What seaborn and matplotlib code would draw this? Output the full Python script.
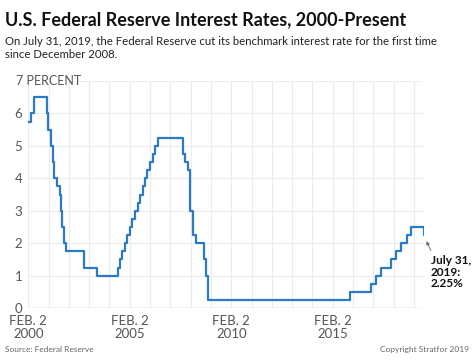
import matplotlib
matplotlib.use("Agg")
import matplotlib.pyplot as plt
import seaborn as sns
import pandas as pd

# Fed funds target rate (upper bound), change dates
dates = ["2000-02-02", "2000-03-21", "2000-05-16", "2001-01-03", "2001-01-31",
         "2001-03-20", "2001-04-18", "2001-05-15", "2001-06-27", "2001-08-21",
         "2001-09-17", "2001-10-02", "2001-11-06", "2001-12-11", "2002-11-06",
         "2003-06-25", "2004-06-30", "2004-08-10", "2004-09-21", "2004-11-10",
         "2004-12-14", "2005-02-02", "2005-03-22", "2005-05-03", "2005-06-30",
         "2005-08-09", "2005-09-20", "2005-11-01", "2005-12-13", "2006-01-31",
         "2006-03-28", "2006-05-10", "2006-06-29", "2007-09-18", "2007-10-31",
         "2007-12-11", "2008-01-22", "2008-01-30", "2008-03-18", "2008-04-30",
         "2008-10-08", "2008-10-29", "2008-12-16", "2015-12-16", "2016-12-14",
         "2017-03-15", "2017-06-14", "2017-12-13", "2018-03-21", "2018-06-13",
         "2018-09-26", "2018-12-19", "2019-07-31"]
rates = [5.75, 6.00, 6.50, 6.00, 5.50,
         5.00, 4.50, 4.00, 3.75, 3.50,
         3.00, 2.50, 2.00, 1.75, 1.25,
         1.00, 1.25, 1.50, 1.75, 2.00,
         2.25, 2.50, 2.75, 3.00, 3.25,
         3.50, 3.75, 4.00, 4.25, 4.50,
         4.75, 5.00, 5.25, 4.75, 4.50,
         4.25, 3.50, 3.00, 2.25, 2.00,
         1.50, 1.00, 0.25, 0.50, 0.75,
         1.00, 1.25, 1.50, 1.75, 2.00,
         2.25, 2.50, 2.25]
tick_years = [2000, 2005, 2010, 2015]
ytick_vals = [0, 1, 2, 3, 4, 5, 6]

df = pd.DataFrame({"date": pd.to_datetime(dates), "rate": rates})

sns.set_theme(style="white")
plt.rcParams['font.family'] = ['Lato', 'DejaVu Sans']

fig = plt.figure(figsize=(4.74, 3.6), dpi=100)
ax = fig.add_axes([0.059, 0.144, 0.836, 0.631])

sns.lineplot(data=df, x="date", y="rate", ax=ax, drawstyle="steps-post",
             color="#2b7bc4", linewidth=1.6)

ax.set_xlim(pd.Timestamp("2000-01-28"), pd.Timestamp("2019-08-06"))
ax.set_ylim(0, 7)

# grid
for yr in range(2000, 2020):
    ax.axvline(pd.Timestamp(f"{yr}-02-02"), color="#ebebeb", lw=0.8, zorder=0)
for v in ytick_vals[1:]:
    ax.axhline(v, color="#ebebeb", lw=0.8, zorder=0)
ax.axhline(7, xmin=0.12, xmax=0.99, color="#ebebeb", lw=0.8, zorder=0)
ax.axhline(0, xmax=0.99, color="#cfcfcf", lw=1.0, zorder=1)

for s in ax.spines.values():
    s.set_visible(False)

ax.set_yticks(ytick_vals)
ax.set_yticklabels([str(v) for v in ytick_vals], color="#555555", fontsize=9.5)
ax.text(-0.03, 7, "7 PERCENT", transform=ax.get_yaxis_transform(),
        ha="left", va="center", fontsize=9, color="#555555")
ax.set_xticks([pd.Timestamp(f"{y}-02-02") for y in tick_years])
ax.set_xticklabels([f"FEB. 2\n{y}" for y in tick_years], color="#555555",
                   fontsize=9.5, linespacing=1.05)
ax.tick_params(axis="y", length=0, pad=4)
ax.tick_params(axis="x", length=0, pad=5)
ax.set_xlabel("")
ax.set_ylabel("")

ax.annotate("July 31,\n2019:\n2.25%", xy=(pd.Timestamp("2019-09-05"), 2.1),
            xytext=(431, 88), textcoords="figure pixels",
            fontsize=8.5, fontweight="bold", color="#111111", ha="left",
            va="center", linespacing=1.05, annotation_clip=False,
            arrowprops=dict(arrowstyle="-|>", color="#666666", lw=0.6,
                            shrinkA=1, shrinkB=1, mutation_scale=5,
                            relpos=(0.05, 1.0)))

fig.text(0.011, 0.945, "U.S. Federal Reserve Interest Rates, 2000-Present",
         fontsize=13, fontweight="bold", color="#111111", va="center")
fig.text(0.011, 0.867,
         "On July 31, 2019, the Federal Reserve cut its benchmark interest rate for the first time\nsince December 2008.",
         fontsize=8.2, color="#222222", va="center", linespacing=1.3)
fig.text(0.011, 0.028, "Source: Federal Reserve", fontsize=6, color="#666666", va="center")
fig.text(0.989, 0.028, "Copyright Stratfor 2019", fontsize=6, color="#666666",
         va="center", ha="right")

fig.savefig("out.png", dpi=100)
